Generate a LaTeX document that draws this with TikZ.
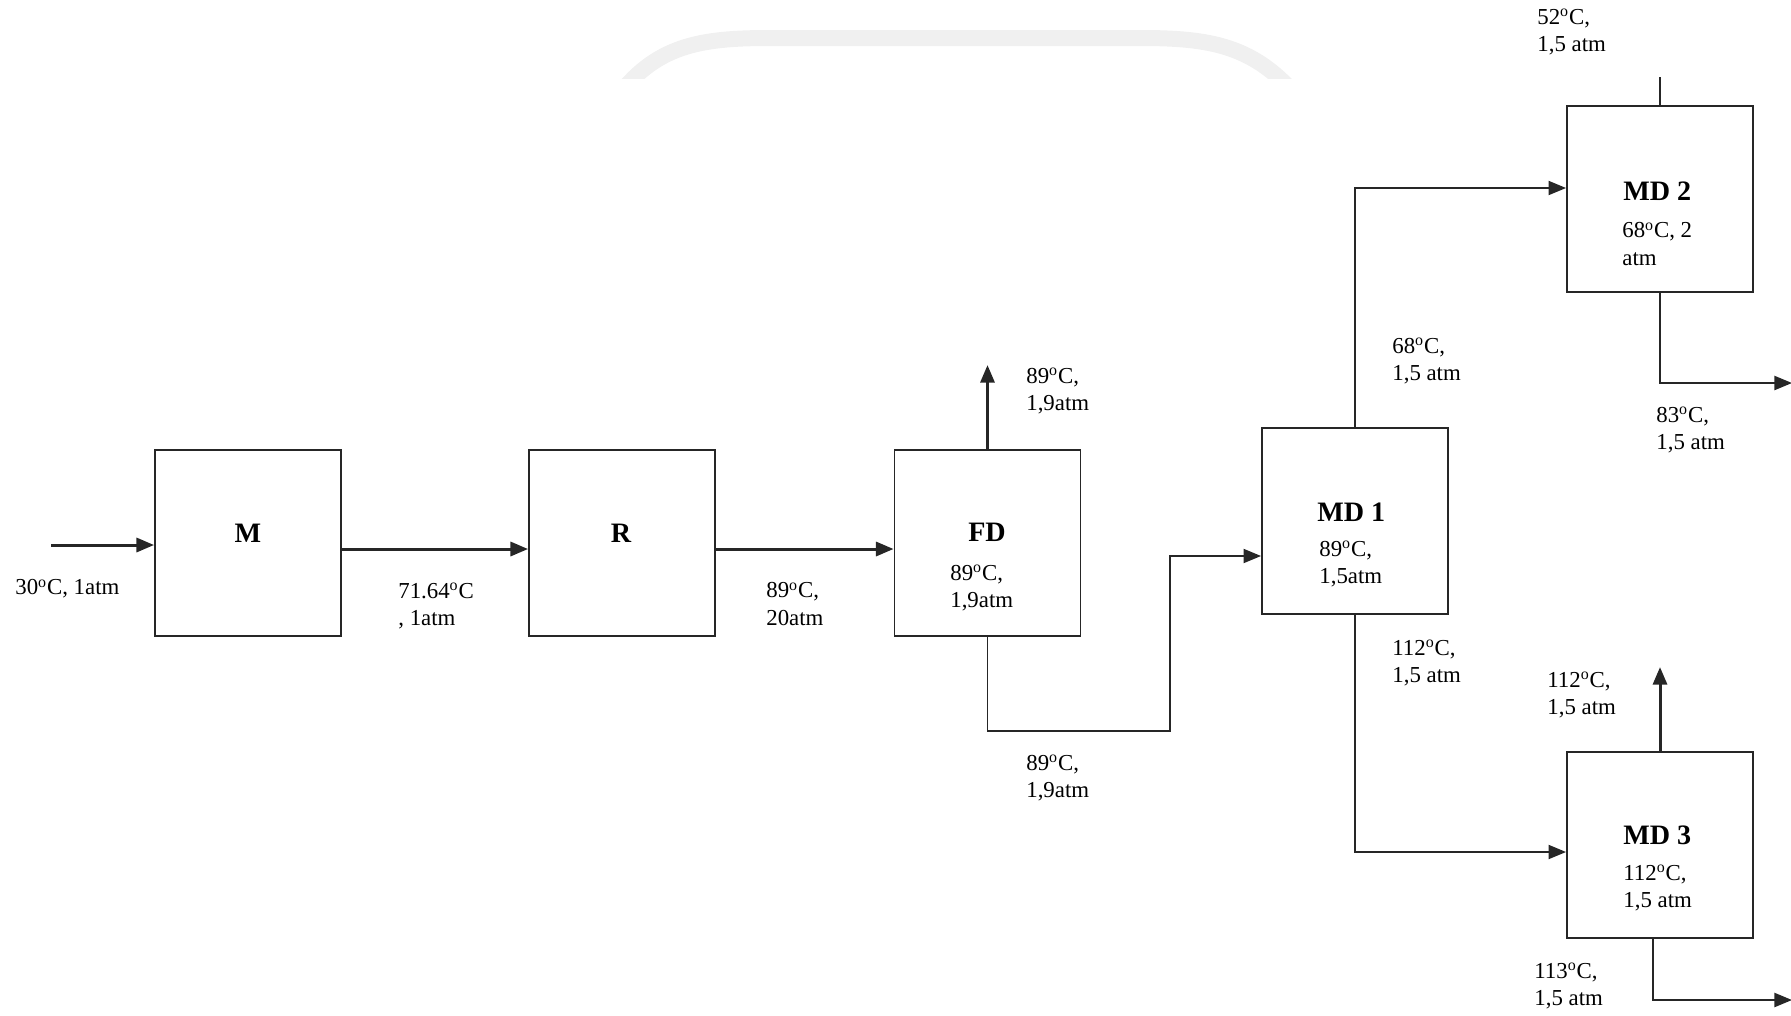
\documentclass[tikz,border=0pt]{standalone}
\usepackage{fontspec}
\setmainfont{Liberation Serif}
\usetikzlibrary{arrows.meta}

\newcommand{\degc}{\textsuperscript{o}C}

\begin{document}
\begin{tikzpicture}[x=0.02cm, y=-0.02cm,
    unitbox/.style={rectangle, draw=black!85, line width=1.1pt, minimum width=3.72cm, minimum height=3.72cm, inner sep=0pt},
    boxtitle/.style={font=\fontsize{16}{19}\selectfont\bfseries, inner sep=0pt},
    cond/.style={font=\fontsize{13}{15.4}\selectfont, align=left, anchor=west, inner sep=0pt},
    stream/.style={-{Triangle[length=10pt,width=8pt]}, line width=1.7pt, black!85},
    flow/.style={-{Triangle[length=10pt,width=8pt]}, line width=1.1pt, black!85},
    pipe/.style={line width=1.1pt, black!85},
]
\useasboundingbox (0,0) rectangle (1791,1015);

% faint watermark
\begin{scope}
\clip (0,0) rectangle (1791,78);
\draw[black!6, line width=16*0.02cm] (615,100) .. controls (655,45) and (700,38) .. (770,38) -- (1140,38) .. controls (1210,38) and (1255,45) .. (1300,100);
\end{scope}

% units
\node[unitbox] (m) at (248,543) {};
\node[unitbox] (r) at (622,543) {};
\node[unitbox] (fd) at (987.5,543) {};
\node[unitbox] (md1) at (1355,521) {};
\node[unitbox] (md2) at (1660,199) {};
\node[unitbox] (md3) at (1660,845) {};

\node[boxtitle] (mtitle) at (248,533) {M};
\node[boxtitle] (rtitle) at (621,533) {R};
\node[boxtitle] (fdtitle) at (987,532) {FD};
\node[cond] (fdin) at (950,588) {89\degc,\\1,9atm};
\node[boxtitle, anchor=west] (md1title) at (1317,512) {MD 1};
\node[cond] (md1in) at (1319,564) {89\degc,\\1,5atm};
\node[boxtitle, anchor=west] (md2title) at (1623,191) {MD 2};
\node[cond] (md2in) at (1622,244) {68\degc, 2\\atm};
\node[boxtitle, anchor=west] (md3title) at (1623,835) {MD 3};
\node[cond] (md3in) at (1623,888) {112\degc,\\1,5 atm};

% stream conditions
\node[cond] (feedlbl) at (15,589) {30\degc, 1atm};
\node[cond] (mrlbl) at (398,606) {71.64\degc\\, 1atm};
\node[cond] (rfdlbl) at (766,604) {89\degc,\\20atm};
\node[cond] (vaplbl) at (1026,391) {89\degc,\\1,9atm};
\node[cond] (liqlbl) at (1026,778) {89\degc,\\1,9atm};
\node[cond] (toplbl) at (1392,361) {68\degc,\\1,5 atm};
\node[cond] (botlbl) at (1392,663) {112\degc,\\1,5 atm};
\node[cond] (md2toplbl) at (1537,32) {52\degc,\\1,5 atm};
\node[cond] (md2botlbl) at (1656,430) {83\degc,\\1,5 atm};
\node[cond] (md3toplbl) at (1547,695) {112\degc,\\1,5 atm};
\node[cond] (md3botlbl) at (1534,986) {113\degc,\\1,5 atm};

\coordinate (feed) at (51,545);
\coordinate (j1) at (1170,731);
\coordinate (out2) at (1792,383);
\coordinate (out3) at (1792,1000);

\draw[stream] (feed) -- (feed -| m.west);
\draw[stream] ([yshift=-0.12cm]m.east) -- ([yshift=-0.12cm]r.west);
\draw[stream] ([yshift=-0.12cm]r.east) -- ([yshift=-0.12cm]fd.west);
\draw[stream] (fd.north) -- ++(0,-84);
\draw[flow] (fd.south) |- (j1) |- ([yshift=-0.7cm]md1.west);
\draw[flow] (md1.north) |- ([yshift=0.22cm]md2.west);
\draw[flow] (md1.south) |- ([yshift=-0.14cm]md3.west);
\draw[pipe] (md2.north) -- ++(0,-28);
\draw[flow] (md2.south) |- (out2);
\draw[stream] (md3.north) -- ++(0,-84);
\draw[flow] ([xshift=-0.14cm]md3.south) |- (out3);
\end{tikzpicture}
\end{document}
